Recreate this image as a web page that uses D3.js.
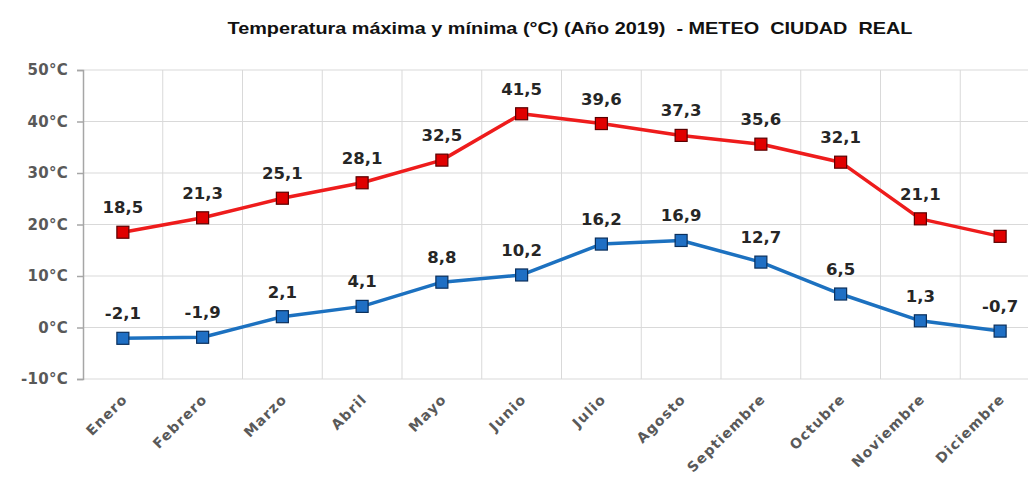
<!DOCTYPE html>
<html>
<head>
<meta charset="utf-8">
<script src="https://cdn.jsdelivr.net/npm/d3@7/dist/d3.min.js"></script>
<style>
  html, body { margin: 0; padding: 0; background: #fff; }
  svg { display: block; }
</style>
</head>
<body>
<svg id="chart" width="1028" height="485"></svg>
<script>
const months = ["Enero","Febrero","Marzo","Abril","Mayo","Junio","Julio","Agosto","Septiembre","Octubre","Noviembre","Diciembre"];
const tMax = [18.5, 21.3, 25.1, 28.1, 32.5, 41.5, 39.6, 37.3, 35.6, 32.1, 21.1, 17.7];
const tMin = [-2.1, -1.9, 2.1, 4.1, 8.8, 10.2, 16.2, 16.9, 12.7, 6.5, 1.3, -0.7];
const maxUnlabeled = ["Diciembre"];
const yTicks = [-10, 0, 10, 20, 30, 40, 50];
const title = "Temperatura máxima y mínima (°C) (Año 2019)  - METEO  CIUDAD  REAL";

const svg = d3.select("#chart");
const x = d3.scalePoint().domain(months).range([83, 1040]).padding(0.5);
const y = d3.scaleLinear().domain([-10, 50]).range([379, 70]);
const step = x.step();

// title
svg.append("text")
  .attr("x", 570).attr("y", 34)
  .attr("text-anchor", "middle")
  .attr("font-family", "'Liberation Sans Narrow', 'Liberation Sans', Arial, sans-serif")
  .attr("font-weight", "bold")
  .attr("font-size", 16.5)
  .attr("fill", "#111")
  .attr("textLength", 685)
  .attr("lengthAdjust", "spacingAndGlyphs")
  .style("white-space", "pre")
  .text(title);

// grid
const grid = svg.append("g");
grid.selectAll("line.h").data(yTicks).join("line")
  .attr("x1", 83).attr("x2", 1040)
  .attr("y1", d => y(d)).attr("y2", d => y(d))
  .attr("stroke", "#d9d9d9").attr("stroke-width", 1);
grid.selectAll("line.v").data(months.slice(1)).join("line")
  .attr("x1", d => x(d) - step / 2).attr("x2", d => x(d) - step / 2)
  .attr("y1", y(50)).attr("y2", y(-10))
  .attr("stroke", "#d9d9d9").attr("stroke-width", 1);

// y axis
const yAxis = d3.axisLeft(y).tickValues(yTicks).tickSize(6).tickPadding(9)
  .tickFormat(d => d + "°C");
const yg = svg.append("g").attr("transform", "translate(83,0)").call(yAxis);
yg.select(".domain").attr("stroke", "#a6a6a6").attr("stroke-width", 1.5);
yg.selectAll(".tick line").attr("stroke", "#a6a6a6").attr("stroke-width", 1.5);
yg.selectAll(".tick text")
  .attr("font-family", "'DejaVu Sans', Verdana, sans-serif")
  .attr("font-weight", "bold").attr("font-size", 15)
  .attr("letter-spacing", 0.3)
  .attr("fill", "#595959");

// x axis labels
const xAxis = d3.axisBottom(x).tickSize(0).tickPadding(0);
const xg = svg.append("g").attr("transform", "translate(0,379)").call(xAxis);
xg.select(".domain").remove();
xg.selectAll(".tick text")
  .attr("font-family", "'DejaVu Sans', Verdana, sans-serif")
  .attr("font-weight", "bold").attr("font-size", 14)
  .attr("letter-spacing", 1.2)
  .attr("fill", "#595959")
  .attr("text-anchor", "end")
  .attr("dy", 0).attr("y", 0)
  .attr("transform", "translate(5,21) rotate(-45)");

// series
const series = [
  { values: tMax, line: "#ee1c1c", fill: "#e00000", stroke: "#5a0000", skip: maxUnlabeled },
  { values: tMin, line: "#1c71c0", fill: "#1f6fc4", stroke: "#0a2f5c", skip: [] }
];
const lineGen = d3.line().x(d => x(d.m)).y(d => y(d.v));

series.forEach(s => {
  const pts = months.map((m, i) => ({ m, v: s.values[i] }));
  svg.append("path").datum(pts)
    .attr("d", lineGen)
    .attr("fill", "none")
    .attr("stroke", s.line)
    .attr("stroke-width", 3.5)
    .attr("stroke-linejoin", "round");
  svg.append("g").selectAll("rect").data(pts).join("rect")
    .attr("x", d => x(d.m) - 6).attr("y", d => y(d.v) - 6)
    .attr("width", 12).attr("height", 12)
    .attr("fill", s.fill).attr("stroke", s.stroke).attr("stroke-width", 1.2);
  svg.append("g").selectAll("text").data(pts.filter(d => !s.skip.includes(d.m))).join("text")
    .attr("x", d => x(d.m)).attr("y", d => y(d.v) - 19)
    .attr("text-anchor", "middle")
    .attr("font-family", "'DejaVu Sans', Verdana, sans-serif")
    .attr("font-weight", "bold").attr("font-size", 16.5)
    .attr("fill", "#262626")
    .text(d => d3.format(".1f")(d.v).replace(".", ",").replace("−", "-"));
});
</script>
</body>
</html>
